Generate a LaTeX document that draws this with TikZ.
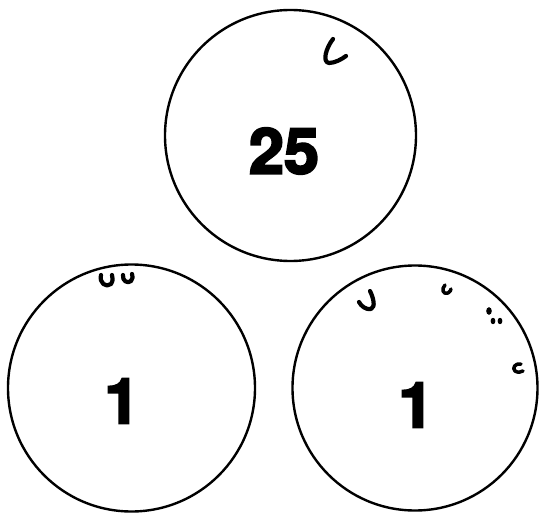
\documentclass[tikz,border=0pt]{standalone}
\usepackage{fontspec}
\setmainfont{TeX Gyre Heros}
\newfontfamily\heavyfont{TeX Gyre Heros}[BoldFeatures={FakeBold=3.5}]
\begin{document}
\begin{tikzpicture}[x=1pt,y=-1pt,
  ring/.style={draw=black,line width=2.4pt,circle,inner sep=0pt},
  num/.style={font=\fontsize{63}{63}\heavyfont\bfseries,inner sep=0pt,anchor=center},
  tick/.style={line width=4.2pt,line cap=round,line join=round}]
\useasboundingbox (0,0) rectangle (539,514);
\node[ring,minimum size=251pt] (top) at (290.5,135.5) {};
\node[ring,minimum size=247pt] (left) at (131.5,388) {};
\node[ring,minimum size=245pt] (right) at (415,388) {};
\node[num] (n25) at (284,151) {25};
\node[num] (n1a) at (122,401) {1};
\node[num] (n1b) at (416,405) {1};
% marks
\draw[tick] (333,39) .. controls (326,48) and (322,62) .. (329,63) .. controls (335,63) and (342,59) .. (346,56);
\draw[tick] (101,275) .. controls (99,283) and (106,288) .. (111,284) .. controls (113,281) and (113,278) .. (112,275);
\draw[tick] (123,275) .. controls (122,281) and (128,284) .. (131,281) .. controls (133,279) and (133,276) .. (132,274);
\draw[tick] (370,291) .. controls (373,297) and (376,307) .. (371,309) .. controls (366,310) and (361,306) .. (359,302);
\draw[tick,line width=3.5pt] (445,285) .. controls (441,289) and (443,295) .. (448,293) .. controls (450,292) and (451,290) .. (451,289);
\draw[tick,line width=3.5pt] (521,364) .. controls (515,363) and (512,368) .. (515,371) .. controls (518,373) and (521,372) .. (523,371);
\fill (489,311) ellipse (2.8pt and 3.8pt);
\fill (493,321) ellipse (2.4pt and 3.2pt);
\fill (500,321) ellipse (2.4pt and 3.2pt);
\end{tikzpicture}
\end{document}
